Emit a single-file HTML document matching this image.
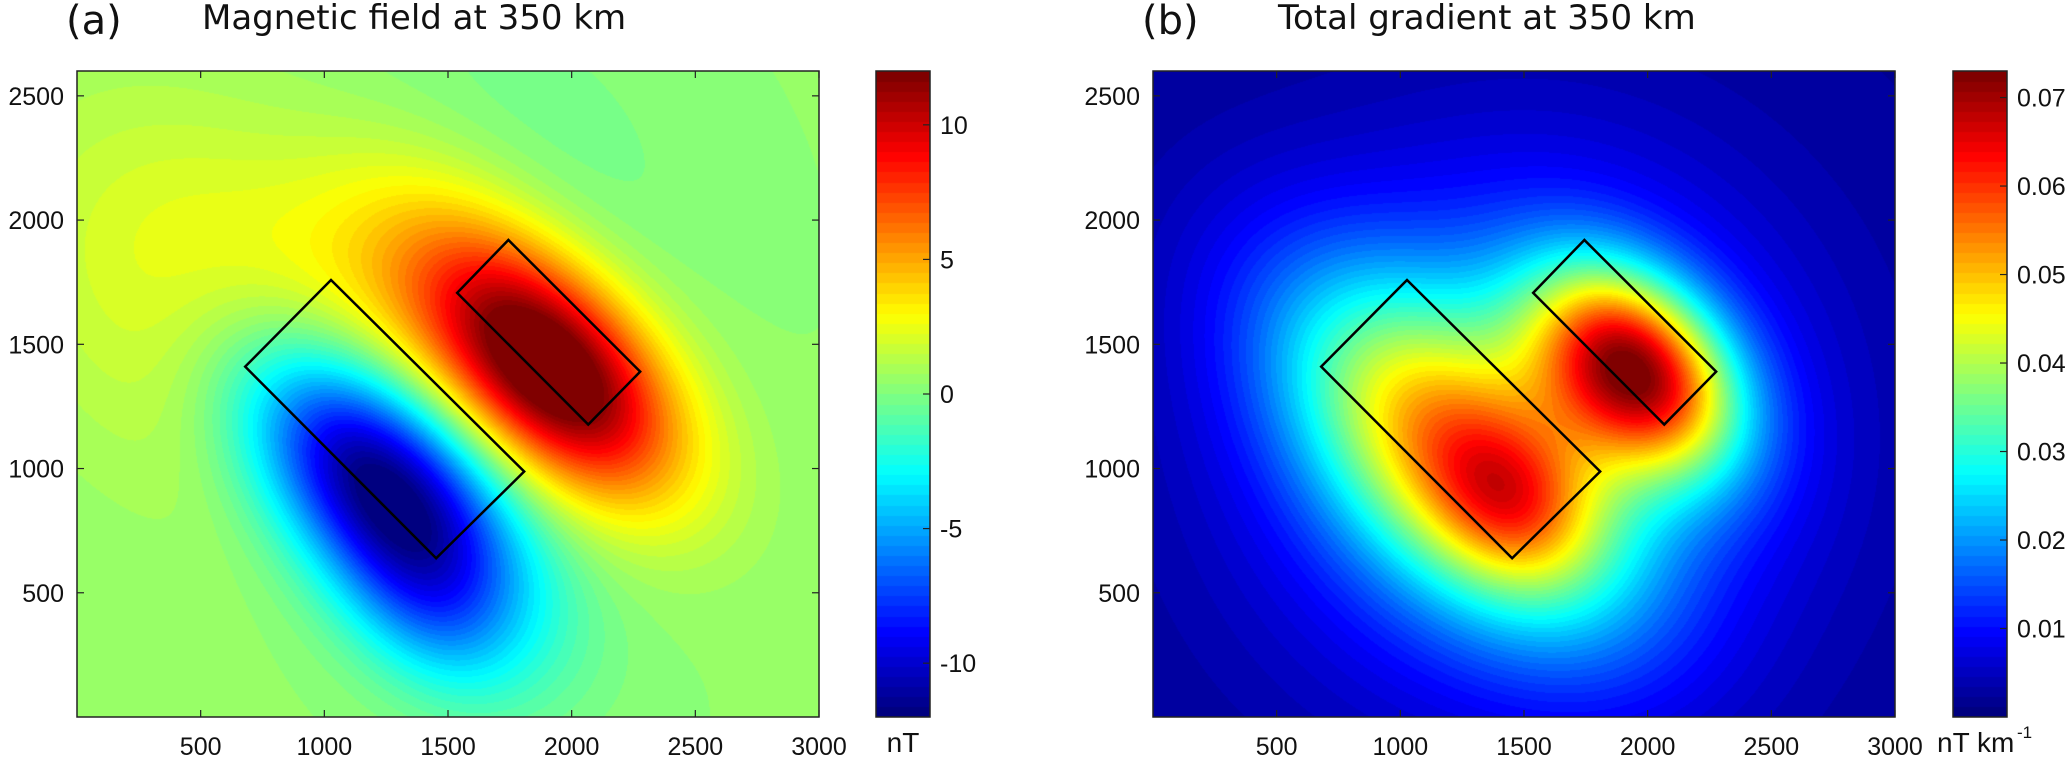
<!DOCTYPE html>
<html><head><meta charset="utf-8">
<style>
html,body{margin:0;padding:0;background:#fff;}
#root{position:relative;width:2067px;height:757px;overflow:hidden;background:#fff;font-family:"Liberation Sans",sans-serif;}
canvas{position:absolute;}
.t{position:absolute;white-space:nowrap;color:#111;}
</style></head>
<body>
<div id="root">
  <div class="t" style="left:66px;top:-2px;font:40px 'DejaVu Sans',sans-serif;">(a)</div>
  <div class="t" style="left:202px;top:-2px;font:34px 'DejaVu Sans',sans-serif;">Magnetic field at 350 km</div>
  <div class="t" style="left:1142px;top:-2px;font:40px 'DejaVu Sans',sans-serif;">(b)</div>
  <div class="t" style="left:1278px;top:-2px;font:34px 'DejaVu Sans',sans-serif;">Total gradient at 350 km</div>
  <canvas id="ca" width="742" height="646" style="left:77px;top:71px;"></canvas>
  <canvas id="cb" width="742" height="646" style="left:1153px;top:71px;"></canvas>
  <canvas id="cba" width="54" height="646" style="left:876px;top:71px;"></canvas>
  <canvas id="cbb" width="54" height="646" style="left:1953px;top:71px;"></canvas>
  <svg id="ov" width="2067" height="757" style="position:absolute;left:0;top:0;"></svg>
</div>
<script>
// ---- data: field a (nT) anomaly components ----
const aCx=[1920,1230,600,1750,1400,1400];
const aCy=[1400,930,1650,2200,420,1850];
const aAmp=[13.5,-13.5,2.6,-1.0,-3,2.5];
const aAlong=[420,480,650,550,300,400];
const aAcross=[240,250,450,400,200,350];
const aBase=0.4;
// ---- data: field b (nT/km) components ----
const bCx=[1500,1200,1950,1450];
const bCy=[1150,1080,1400,870];
const bAmp=[0.02,0.035,0.055,0.015];
const bAlong=[700,600,330,250];
const bAcross=[700,320,230,200];
const bBase=0.002;
// ---- axes ----
const xTicks=[500,1000,1500,2000,2500,3000];
const yTicks=[500,1000,1500,2000,2500];
const cbaTicks=[10,5,0,-5,-10];
const cbbTicks=[0.07,0.06,0.05,0.04,0.03,0.02,0.01];
const cbaRange=[-12,12];
const cbbRange=[0,0.073];
const rectA=[[1027,1759],[680,1410],[1452,639],[1808,988]];
const rectB=[[1744,1920],[1537,1707],[2067,1177],[2277,1390]];

const W=742,H=646,XMAX=3000,YMAX=2600;
function xs(v){return v/XMAX*W;}
function ys(v){return H-v/YMAX*H;}
function jet(t){t=Math.max(0,Math.min(1,t));t=Math.floor(t*63.999)/63;
  const c=x=>Math.round(255*Math.max(0,Math.min(1,x)));
  return [c(1.5-Math.abs(4*t-3)),c(1.5-Math.abs(4*t-2)),c(1.5-Math.abs(4*t-1))];}
function field(cx,cy,amp,al,ac,base,x,y){let s=base;
  for(let i=0;i<cx.length;i++){const dx=x-cx[i],dy=y-cy[i];
    const u=(dx-dy)/1.41421,v=(dx+dy)/1.41421;
    s+=amp[i]*Math.exp(-(u*u)/(2*al[i]*al[i])-(v*v)/(2*ac[i]*ac[i]));}
  return s;}
function drawMap(id,cx,cy,amp,al,ac,base,range){
  const cv=document.getElementById(id),ctx=cv.getContext('2d');
  const img=ctx.createImageData(W,H);
  for(let py=0;py<H;py++){const y=(H-py)/H*YMAX;
    for(let px=0;px<W;px++){const x=px/W*XMAX;
      const v=field(cx,cy,amp,al,ac,base,x,y);
      const c=jet((v-range[0])/(range[1]-range[0]));
      const k=(py*W+px)*4;img.data[k]=c[0];img.data[k+1]=c[1];img.data[k+2]=c[2];img.data[k+3]=255;}}
  ctx.putImageData(img,0,0);}
function drawBar(id){const cv=document.getElementById(id),ctx=cv.getContext('2d');
  for(let py=0;py<H;py++){const c=jet(1-py/H);ctx.fillStyle=`rgb(${c[0]},${c[1]},${c[2]})`;ctx.fillRect(0,py,54,1);}}
drawMap('ca',aCx,aCy,aAmp,aAlong,aAcross,aBase,cbaRange);
drawMap('cb',bCx,bCy,bAmp,bAlong,bAcross,bBase,cbbRange);
drawBar('cba');drawBar('cbb');

const NS='http://www.w3.org/2000/svg',ov=document.getElementById('ov');
function el(tag,attrs,txt){const e=document.createElementNS(NS,tag);for(const k in attrs)e.setAttribute(k,attrs[k]);if(txt!==undefined)e.textContent=txt;ov.appendChild(e);return e;}
function axes(ox,oy,p){
  const f=el('rect',{x:ox,y:oy,width:W,height:H,fill:'none',stroke:'#222','stroke-width':1.5});
  
  
  xTicks.forEach(t=>{const x=ox+xs(t);
    const l=el('line',{x1:x,y1:oy+H,x2:x,y2:oy+H-7,stroke:'#222','stroke-width':1.2});
    
    
    const l2=el('line',{x1:x,y1:oy,x2:x,y2:oy+7,stroke:'#222','stroke-width':1.2});
    
    
    const tx=el('text',{x:x,y:755,'text-anchor':'middle','font-size':25,'font-family':'Liberation Sans, sans-serif',fill:'#111'},String(t));
    
    });
  yTicks.forEach(t=>{const y=oy+ys(t);
    const l=el('line',{x1:ox,y1:y,x2:ox+7,y2:y,stroke:'#222','stroke-width':1.2});
    
    
    const l2=el('line',{x1:ox+W,y1:y,x2:ox+W-7,y2:y,stroke:'#222','stroke-width':1.2});
    
    
    const tx=el('text',{x:ox-13,y:y+9,'text-anchor':'end','font-size':25,'font-family':'Liberation Sans, sans-serif',fill:'#111'},String(t));
    
    });
  [rectA,rectB].forEach((r,i)=>{const pts=r.map(q=>(ox+xs(q[0]))+','+(oy+ys(q[1]))).join(' ');
    const pg=el('polygon',{points:pts,fill:'none',stroke:'#000','stroke-width':2.5});
    
    });
}
axes(77,71,'panel-a');
axes(1153,71,'panel-b');
function cbar(ox,ticks,range,fmt,p){
  const f=el('rect',{x:ox,y:71,width:54,height:H,fill:'none',stroke:'#222','stroke-width':1.5});
  
  
  ticks.forEach(t=>{const y=71+H-(t-range[0])/(range[1]-range[0])*H;
    const l=el('line',{x1:ox+54,y1:y,x2:ox+47,y2:y,stroke:'#222','stroke-width':1.2});
    
    
    const tx=el('text',{x:ox+64,y:y+9,'font-size':25,'font-family':'Liberation Sans, sans-serif',fill:'#111'},fmt(t));
    
    });
}
cbar(876,cbaTicks,cbaRange,t=>String(t),'colorbar-a');
cbar(1953,cbbTicks,cbbRange,t=>t.toFixed(2),'colorbar-b');
const u1=el('text',{x:903,y:752,'text-anchor':'middle','font-size':28,'font-family':'Liberation Sans, sans-serif',fill:'#111'},'nT');


const u2=el('text',{x:1937,y:752,'font-size':28,'font-family':'Liberation Sans, sans-serif',fill:'#111'},'nT km');


const u3=el('text',{x:2017,y:738,'font-size':17,'font-family':'Liberation Sans, sans-serif',fill:'#111'},'-1');


</script>
</body></html>
